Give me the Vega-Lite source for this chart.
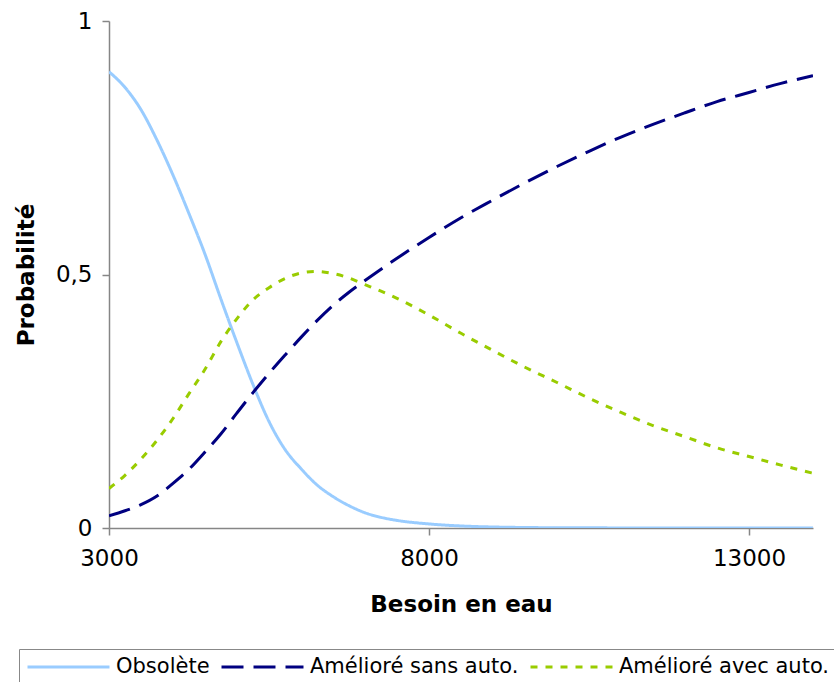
{
  "$schema": "https://vega.github.io/schema/vega-lite/v6.json",
  "width": 704,
  "height": 507,
  "autosize": "none",
  "padding": {"left": 109, "top": 21, "right": 21, "bottom": 154},
  "background": "white",
  "config": {
    "view": {"stroke": null},
    "font": "DejaVu Sans",
    "axis": {
      "grid": false,
      "domainColor": "#868686",
      "domainWidth": 1.5,
      "tickColor": "#868686",
      "tickWidth": 1.5,
      "tickSize": 7,
      "labelFont": "DejaVu Sans",
      "labelFontSize": 23,
      "labelColor": "black",
      "titleFont": "DejaVu Sans",
      "titleFontSize": 23,
      "titleFontWeight": "bold",
      "titleColor": "black"
    }
  },
  "data": {
    "values": [
      {"serie": "Obsolète", "x": 3000, "y": 0.900},
      {"serie": "Obsolète", "x": 3250, "y": 0.869},
      {"serie": "Obsolète", "x": 3500, "y": 0.825},
      {"serie": "Obsolète", "x": 3750, "y": 0.765},
      {"serie": "Obsolète", "x": 4000, "y": 0.696},
      {"serie": "Obsolète", "x": 4250, "y": 0.620},
      {"serie": "Obsolète", "x": 4500, "y": 0.540},
      {"serie": "Obsolète", "x": 4750, "y": 0.451},
      {"serie": "Obsolète", "x": 5000, "y": 0.365},
      {"serie": "Obsolète", "x": 5250, "y": 0.283},
      {"serie": "Obsolète", "x": 5500, "y": 0.210},
      {"serie": "Obsolète", "x": 5750, "y": 0.155},
      {"serie": "Obsolète", "x": 6000, "y": 0.117},
      {"serie": "Obsolète", "x": 6250, "y": 0.085},
      {"serie": "Obsolète", "x": 6500, "y": 0.062},
      {"serie": "Obsolète", "x": 6750, "y": 0.044},
      {"serie": "Obsolète", "x": 7000, "y": 0.030},
      {"serie": "Obsolète", "x": 7250, "y": 0.021},
      {"serie": "Obsolète", "x": 7500, "y": 0.015},
      {"serie": "Obsolète", "x": 8000, "y": 0.008},
      {"serie": "Obsolète", "x": 8500, "y": 0.004},
      {"serie": "Obsolète", "x": 9000, "y": 0.002},
      {"serie": "Obsolète", "x": 9500, "y": 0.001},
      {"serie": "Obsolète", "x": 10000, "y": 0.0005},
      {"serie": "Obsolète", "x": 11000, "y": 0.0002},
      {"serie": "Obsolète", "x": 12000, "y": 0.0},
      {"serie": "Obsolète", "x": 13000, "y": 0.0},
      {"serie": "Obsolète", "x": 14000, "y": 0.0},
      {"serie": "Amélioré sans auto.", "x": 3000, "y": 0.024},
      {"serie": "Amélioré sans auto.", "x": 3250, "y": 0.034},
      {"serie": "Amélioré sans auto.", "x": 3500, "y": 0.046},
      {"serie": "Amélioré sans auto.", "x": 3750, "y": 0.063},
      {"serie": "Amélioré sans auto.", "x": 4000, "y": 0.088},
      {"serie": "Amélioré sans auto.", "x": 4250, "y": 0.116},
      {"serie": "Amélioré sans auto.", "x": 4500, "y": 0.150},
      {"serie": "Amélioré sans auto.", "x": 4750, "y": 0.186},
      {"serie": "Amélioré sans auto.", "x": 5000, "y": 0.227},
      {"serie": "Amélioré sans auto.", "x": 5250, "y": 0.267},
      {"serie": "Amélioré sans auto.", "x": 5500, "y": 0.305},
      {"serie": "Amélioré sans auto.", "x": 5750, "y": 0.341},
      {"serie": "Amélioré sans auto.", "x": 6000, "y": 0.376},
      {"serie": "Amélioré sans auto.", "x": 6250, "y": 0.409},
      {"serie": "Amélioré sans auto.", "x": 6500, "y": 0.439},
      {"serie": "Amélioré sans auto.", "x": 6750, "y": 0.465},
      {"serie": "Amélioré sans auto.", "x": 7000, "y": 0.488},
      {"serie": "Amélioré sans auto.", "x": 7500, "y": 0.532},
      {"serie": "Amélioré sans auto.", "x": 8000, "y": 0.573},
      {"serie": "Amélioré sans auto.", "x": 8500, "y": 0.612},
      {"serie": "Amélioré sans auto.", "x": 9000, "y": 0.647},
      {"serie": "Amélioré sans auto.", "x": 9500, "y": 0.681},
      {"serie": "Amélioré sans auto.", "x": 10000, "y": 0.713},
      {"serie": "Amélioré sans auto.", "x": 10500, "y": 0.743},
      {"serie": "Amélioré sans auto.", "x": 11000, "y": 0.771},
      {"serie": "Amélioré sans auto.", "x": 11500, "y": 0.796},
      {"serie": "Amélioré sans auto.", "x": 12000, "y": 0.819},
      {"serie": "Amélioré sans auto.", "x": 12500, "y": 0.841},
      {"serie": "Amélioré sans auto.", "x": 13000, "y": 0.859},
      {"serie": "Amélioré sans auto.", "x": 13500, "y": 0.877},
      {"serie": "Amélioré sans auto.", "x": 14000, "y": 0.892},
      {"serie": "Amélioré avec auto.", "x": 3000, "y": 0.078},
      {"serie": "Amélioré avec auto.", "x": 3250, "y": 0.104},
      {"serie": "Amélioré avec auto.", "x": 3500, "y": 0.136},
      {"serie": "Amélioré avec auto.", "x": 3750, "y": 0.173},
      {"serie": "Amélioré avec auto.", "x": 4000, "y": 0.216},
      {"serie": "Amélioré avec auto.", "x": 4250, "y": 0.265},
      {"serie": "Amélioré avec auto.", "x": 4500, "y": 0.313},
      {"serie": "Amélioré avec auto.", "x": 4750, "y": 0.368},
      {"serie": "Amélioré avec auto.", "x": 5000, "y": 0.413},
      {"serie": "Amélioré avec auto.", "x": 5250, "y": 0.450},
      {"serie": "Amélioré avec auto.", "x": 5500, "y": 0.474},
      {"serie": "Amélioré avec auto.", "x": 5750, "y": 0.492},
      {"serie": "Amélioré avec auto.", "x": 6000, "y": 0.503},
      {"serie": "Amélioré avec auto.", "x": 6250, "y": 0.506},
      {"serie": "Amélioré avec auto.", "x": 6500, "y": 0.502},
      {"serie": "Amélioré avec auto.", "x": 6750, "y": 0.493},
      {"serie": "Amélioré avec auto.", "x": 7000, "y": 0.480},
      {"serie": "Amélioré avec auto.", "x": 7250, "y": 0.467},
      {"serie": "Amélioré avec auto.", "x": 7500, "y": 0.453},
      {"serie": "Amélioré avec auto.", "x": 8000, "y": 0.420},
      {"serie": "Amélioré avec auto.", "x": 8500, "y": 0.384},
      {"serie": "Amélioré avec auto.", "x": 9000, "y": 0.350},
      {"serie": "Amélioré avec auto.", "x": 9500, "y": 0.317},
      {"serie": "Amélioré avec auto.", "x": 10000, "y": 0.287},
      {"serie": "Amélioré avec auto.", "x": 10500, "y": 0.256},
      {"serie": "Amélioré avec auto.", "x": 11000, "y": 0.228},
      {"serie": "Amélioré avec auto.", "x": 11500, "y": 0.202},
      {"serie": "Amélioré avec auto.", "x": 12000, "y": 0.180},
      {"serie": "Amélioré avec auto.", "x": 12500, "y": 0.158},
      {"serie": "Amélioré avec auto.", "x": 13000, "y": 0.141},
      {"serie": "Amélioré avec auto.", "x": 13500, "y": 0.124},
      {"serie": "Amélioré avec auto.", "x": 14000, "y": 0.108}
    ]
  },
  "mark": {"type": "line", "strokeWidth": 3, "interpolate": "monotone", "clip": true},
  "encoding": {
    "x": {
      "field": "x",
      "type": "quantitative",
      "title": "Besoin en eau",
      "scale": {"domain": [3000, 14000], "nice": false, "zero": false},
      "axis": {"values": [3000, 8000, 13000], "format": "d", "labelPadding": 12, "titlePadding": 23, "labelFlush": false}
    },
    "y": {
      "field": "y",
      "type": "quantitative",
      "title": "Probabilité",
      "scale": {"domain": [0, 1], "nice": false},
      "axis": {"values": [0, 0.5, 1], "labelExpr": "replace(format(datum.value, '~g'), '.', ',')", "labelPadding": 10, "titlePadding": 17}
    },
    "color": {
      "field": "serie",
      "type": "nominal",
      "title": null,
      "scale": {
        "domain": ["Obsolète", "Amélioré sans auto.", "Amélioré avec auto."],
        "range": ["#99CCFF", "#000080", "#99CC00"]
      },
      "legend": {
        "orient": "none",
        "legendX": -90,
        "legendY": 628,
        "direction": "horizontal",
        "columns": 3,
        "symbolType": "stroke",
        "symbolSize": 6724,
        "symbolStrokeWidth": 3,
        "clipHeight": 22,
        "labelFont": "DejaVu Sans",
        "labelFontSize": 21,
        "labelColor": "black",
        "labelLimit": 400,
        "labelOffset": 5,
        "columnPadding": 10,
        "padding": 7,
        "strokeColor": "#888888",
        "fillColor": "white"
      }
    },
    "strokeDash": {
      "field": "serie",
      "type": "nominal",
      "title": null,
      "scale": {
        "domain": ["Obsolète", "Amélioré sans auto.", "Amélioré avec auto."],
        "range": [[1, 0], [22, 10], [7, 8]]
      }
    }
  }
}
